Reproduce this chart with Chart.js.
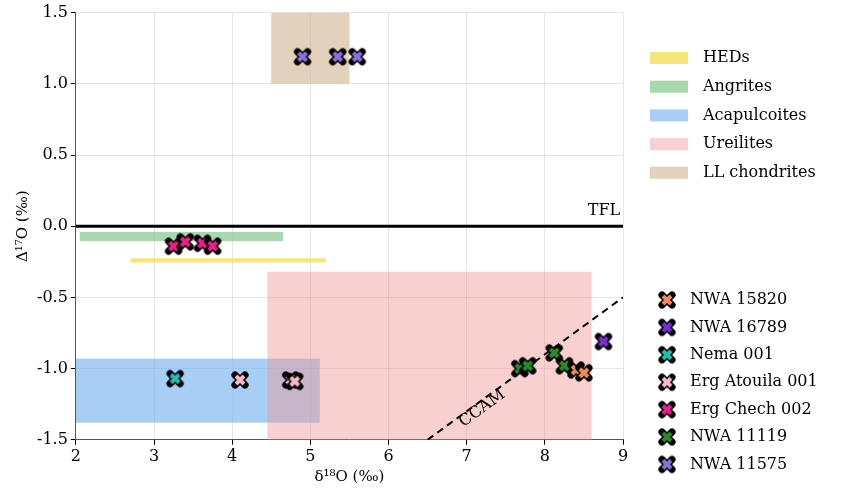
<!DOCTYPE html>
<html><head><meta charset="utf-8">
<script src="https://cdn.jsdelivr.net/npm/chart.js@4/dist/chart.umd.min.js"></script>
<style>body{margin:0;background:#fff}#w{width:852px;height:488px}</style></head>
<body><div id="w"><canvas id="c"></canvas></div>
<script>
const xTicks=[2,3,4,5,6,7,8,9];
const yTicks=[-1.5,-1.0,-0.5,0,0.5,1.0,1.5];
// regions: [name, x0, x1, y0, y1, color]
const regionNames=["HEDs","Angrites","Acapulcoites","Ureilites","LL chondrites"];
const regionX0=[2.7,2.05,2.0,4.45,4.5];
const regionX1=[5.2,4.65,5.12,8.6,5.5];
const regionY0=[-0.255,-0.105,-1.38,-1.5,1.0];
const regionY1=[-0.225,-0.04,-0.93,-0.32,1.5];
const regionColors=["rgba(245,225,100,0.85)","rgba(130,200,140,0.7)","rgba(120,180,240,0.65)","rgba(240,150,150,0.45)","rgba(210,185,150,0.65)"];
const seriesNames=["NWA 15820","NWA 16789","Nema 001","Erg Atouila 001","Erg Chech 002","NWA 11119","NWA 11575"];
const seriesColors=["#f08a5d","#7b2fd0","#20c0b0","#f7b8c8","#e8208a","#2a8a2a","#8a70e0"];
const seriesX=[[8.4,8.5],[8.75],[3.27],[4.1,4.75,4.8],[3.25,3.4,3.62,3.75],[7.68,7.78,8.12,8.25],[4.9,5.35,5.6]];
const seriesY=[[-1.01,-1.03],[-0.81],[-1.07],[-1.08,-1.08,-1.09],[-0.14,-0.11,-0.12,-0.14],[-1.0,-0.98,-0.89,-0.98],[1.19,1.19,1.19]];
const ccamX=[6.5,9.0];
const ccamY=[-1.5,-0.5];

function xImg(color,s){
  const c=document.createElement('canvas');c.width=s;c.height=s;const g=c.getContext('2d');
  const m=s*0.25,M=s-m;
  g.lineCap='round';
  g.strokeStyle='#000';g.lineWidth=s*0.36;
  g.beginPath();g.moveTo(m,m);g.lineTo(M,M);g.moveTo(M,m);g.lineTo(m,M);g.stroke();
  g.strokeStyle=color;g.lineWidth=s*0.2;g.lineCap='butt';
  g.beginPath();g.moveTo(m+1,m+1);g.lineTo(M-1,M-1);g.moveTo(M-1,m+1);g.lineTo(m+1,M-1);g.stroke();
  return c;
}
const imgs=seriesColors.map(c=>xImg(c,20));
const font='"DejaVu Serif", serif';

const datasets=seriesNames.map((n,i)=>({type:'scatter',label:n,data:seriesX[i].map((x,j)=>({x,y:seriesY[i][j]})),pointStyle:imgs[i],pointRadius:10,order:1}));
datasets.push({type:'line',label:'CCAM',data:ccamX.map((x,j)=>({x,y:ccamY[j]})),borderColor:'#000',borderWidth:2,borderDash:[7,5],pointRadius:0,order:2});
datasets.push({type:'line',label:'TFL',data:[{x:2,y:0},{x:9,y:0}],borderColor:'#000',borderWidth:3,pointRadius:0,order:2});

const bg={id:'bg',beforeDatasetsDraw(ch){
  const {ctx,scales:{x,y}}=ch;ctx.save();
  ctx.beginPath();ctx.rect(ch.chartArea.left,ch.chartArea.top,ch.chartArea.width,ch.chartArea.height);ctx.clip();
  regionNames.forEach((n,i)=>{
    const a=x.getPixelForValue(regionX0[i]),b=x.getPixelForValue(regionX1[i]);
    const t=y.getPixelForValue(regionY1[i]),u=y.getPixelForValue(regionY0[i]);
    ctx.fillStyle=regionColors[i];ctx.fillRect(a,t,b-a,u-t);
  });
  ctx.restore();
},afterDatasetsDraw(ch){
  const {ctx,scales:{x,y}}=ch;ctx.save();
  ctx.fillStyle='#000';ctx.font='16px '+font;ctx.textBaseline='middle';
  ctx.fillText('TFL',x.getPixelForValue(8.55),y.getPixelForValue(0.11));
  ctx.translate(x.getPixelForValue(7.2),y.getPixelForValue(-1.28));
  ctx.rotate(-Math.atan2((y.getPixelForValue(-1.5)-y.getPixelForValue(-0.5)),(x.getPixelForValue(9)-x.getPixelForValue(6.5))));
  ctx.textAlign='center';ctx.fillText('CCAM',0,0);
  ctx.restore();
  // legends
  ctx.save();ctx.font='16px '+font;ctx.textBaseline='middle';ctx.fillStyle='#000';
  regionNames.forEach((n,i)=>{const yy=58+i*28.7;ctx.fillStyle=regionColors[i];
    ctx.fillRect(650,yy-6,38,12);ctx.fillStyle='#000';ctx.fillText(n,703,yy);});
  seriesNames.forEach((n,i)=>{const yy=300+i*27.4;ctx.drawImage(imgs[i],657,yy-10);ctx.fillText(n,690,yy);});
  ctx.restore();
}};

new Chart(document.getElementById('c'),{data:{datasets},plugins:[bg],options:{
  responsive:true,maintainAspectRatio:false,animation:false,
  layout:{padding:{right:229,top:0,left:12,bottom:2}},
  plugins:{legend:{display:false},tooltip:{enabled:false}},
  scales:{
    x:{type:'linear',min:2,max:9,afterBuildTicks:s=>{s.ticks=xTicks.map(v=>({value:v}))},
      ticks:{color:'#000',font:{size:16,family:font},padding:2},
      grid:{color:'rgba(0,0,0,0.1)',tickLength:5,tickColor:'#000'},border:{color:'#555'},
      title:{display:true,text:'δ¹⁸O (‰)',color:'#000',font:{size:15,family:font},padding:0}},
    y:{type:'linear',min:-1.5,max:1.5,afterBuildTicks:s=>{s.ticks=yTicks.map(v=>({value:v}))},
      ticks:{color:'#000',font:{size:16,family:font},callback:v=>v.toFixed(1),padding:3},
      grid:{color:'rgba(0,0,0,0.1)',tickLength:5,tickColor:'#000'},border:{color:'#555'},
      title:{display:true,text:'Δ¹⁷O (‰)',color:'#000',font:{size:15,family:font},padding:2}}
  }}});
</script></body></html>
